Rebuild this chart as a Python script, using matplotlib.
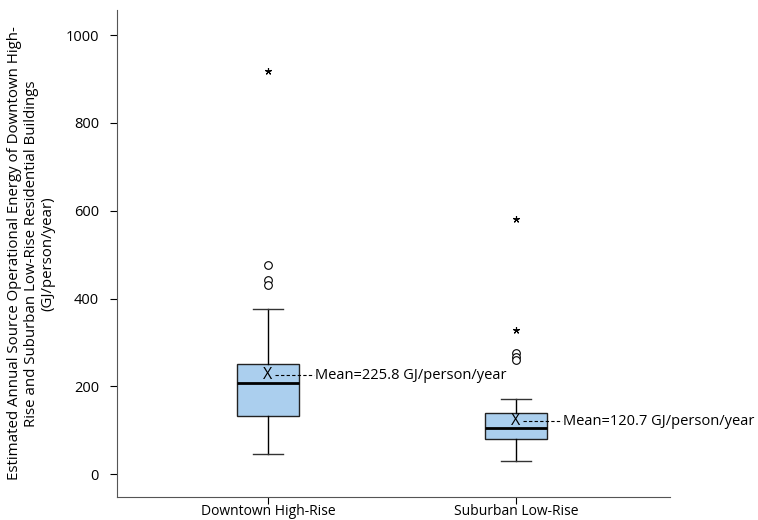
import matplotlib.pyplot as plt
import numpy as np

plt.rcParams['font.family'] = ['Open Sans', 'DejaVu Sans']

categories = ['Downtown High-Rise', 'Suburban Low-Rise']
q1 = [132, 80]
median = [207, 105]
q3 = [252, 140]
whisker_low = [46, 29]
whisker_high = [376, 172]
means = [225.8, 120.7]
outliers = [[476, 443, 430], [275, 266, 259]]
extremes = [[918], [581, 328]]

fig = plt.figure(figsize=(7.58, 5.2), dpi=100)
ax = fig.add_axes([117/758, 23/520, 553/758, 487/520])

stats = []
for i in range(len(categories)):
    stats.append({'q1': q1[i], 'med': median[i], 'q3': q3[i],
                  'whislo': whisker_low[i], 'whishi': whisker_high[i],
                  'fliers': outliers[i], 'label': categories[i]})

pos = np.arange(1, len(categories) + 1)
ax.bxp(stats, positions=pos, widths=0.25, patch_artist=True, showfliers=True,
       boxprops=dict(facecolor='#abcfee', edgecolor='#222222', linewidth=1.0),
       medianprops=dict(color='black', linewidth=2.0),
       whiskerprops=dict(color='black', linewidth=1.0),
       capprops=dict(color='#333333', linewidth=1.0),
       capwidths=0.12,
       flierprops=dict(marker='o', markerfacecolor='white', markeredgecolor='black',
                       markersize=5.5, markeredgewidth=0.8))

for i, p in enumerate(pos):
    # extreme outliers drawn as small stars
    ax.plot([p] * len(extremes[i]), extremes[i], linestyle='none', marker=(5, 2, 0),
            color='black', markersize=5, markeredgewidth=0.8)
    ax.text(p, means[i], 'X', ha='center', va='center', fontsize=11.5)
    ax.plot([p + 0.03, p + 0.185], [means[i], means[i]], linestyle=(0, (3, 2)),
            color='black', linewidth=0.8)
    ax.text(p + 0.19, means[i], 'Mean=%.1f GJ/person/year' % means[i],
            ha='left', va='center', fontsize=10.5)

ax.set_xlim(0.391, 2.621)
ax.set_ylim(-52, 1057)
ax.set_yticks([0, 200, 400, 600, 800, 1000])
ax.set_xticks(pos)
ax.set_xticklabels(categories, fontsize=10)
ax.tick_params(axis='y', labelsize=10.5, length=5, pad=8)
ax.tick_params(axis='x', length=5, pad=0)
ax.spines['top'].set_visible(False)
ax.spines['right'].set_visible(False)
ax.spines['left'].set_color('#555555')
ax.spines['bottom'].set_color('#555555')
ax.set_ylabel('Estimated Annual Source Operational Energy of Downtown High-\n'
              'Rise and Suburban Low-Rise Residential Buildings\n(GJ/person/year)',
              fontsize=10.8, labelpad=7, linespacing=1.15)

fig.savefig('out.png', dpi=100)
